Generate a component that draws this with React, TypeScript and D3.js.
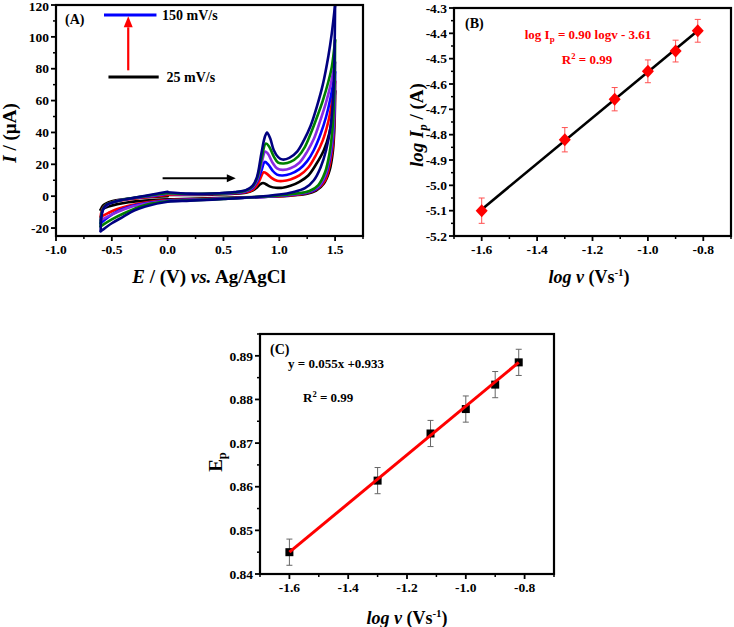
import * as d3 from 'd3';

type Pt = [number, number];

const FONT = '"Liberation Serif", "Times New Roman", serif';

// ---- Panel A: cyclic voltammograms (E / V, I / uA), one loop per scan rate
const scanRates = ['25 mV/s', '50 mV/s', '75 mV/s', '100 mV/s', '125 mV/s', '150 mV/s'];
const cvColors = ['#000000', '#ff0000', '#0000ff', '#8a2be2', '#008000', '#000080'];

const cv25: Pt[] = [
  [0, 0.8], [0.2, 0.8], [0.4, 1], [0.6, 1.5], [0.7, 2.2], [0.76, 3.5], [0.8, 5.5], [0.83, 7.5], [0.855, 8.3],
  [0.88, 7.5], [0.92, 6], [0.97, 5.3], [1.03, 5.3], [1.1, 6.5], [1.18, 9], [1.26, 13], [1.33, 20], [1.4, 29],
  [1.45, 40], [1.48, 52], [1.5, 66],
  [1.495, 45], [1.48, 28], [1.45, 16], [1.4, 8], [1.33, 3.5], [1.25, 1.5], [1.1, 0.3], [0.9, -0.3], [0.5, -1],
  [0.2, -1.6], [0, -2], [-0.2, -2.8], [-0.35, -3.8], [-0.45, -5], [-0.53, -6.5], [-0.6, -8.5],
  [-0.58, -6], [-0.55, -4.5], [-0.5, -3.2], [-0.4, -2], [-0.25, -1], [-0.1, -0.3], [0, 0],
];
const cv50: Pt[] = [
  [0, 1], [0.2, 1], [0.4, 1.2], [0.6, 1.8], [0.7, 2.5], [0.76, 4], [0.8, 7], [0.83, 11], [0.86, 15],
  [0.89, 14], [0.93, 11.5], [0.98, 9.7], [1.03, 9.5], [1.1, 10.5], [1.18, 13], [1.26, 18], [1.33, 26], [1.39, 35],
  [1.44, 47], [1.47, 58], [1.5, 72],
  [1.495, 50], [1.48, 32], [1.45, 19], [1.41, 10], [1.34, 4.5], [1.25, 2], [1.1, 0.5], [0.9, -0.4], [0.5, -1.3],
  [0.2, -2], [0, -2.5], [-0.2, -4], [-0.35, -6], [-0.45, -8], [-0.53, -10.5], [-0.6, -13],
  [-0.59, -9], [-0.57, -6.5], [-0.53, -4.5], [-0.45, -3], [-0.3, -1.5], [-0.1, 0], [0, 0.8],
];
const cv75: Pt[] = [
  [0, 1.5], [0.2, 1.2], [0.4, 1.4], [0.6, 2], [0.7, 3], [0.76, 5], [0.8, 9], [0.84, 16], [0.87, 21.5],
  [0.9, 20], [0.94, 16], [0.98, 13.5], [1.03, 13], [1.1, 14], [1.18, 17], [1.25, 22], [1.31, 29], [1.37, 39],
  [1.42, 50], [1.46, 62], [1.5, 78],
  [1.495, 55], [1.48, 36], [1.45, 22], [1.41, 12], [1.35, 5.5], [1.26, 2.5], [1.1, 0.8], [0.9, -0.3], [0.5, -1.5],
  [0.2, -2.2], [0, -2.8], [-0.2, -4.5], [-0.35, -6.8], [-0.45, -9.5], [-0.53, -13], [-0.6, -17],
  [-0.59, -11], [-0.57, -7.5], [-0.53, -5], [-0.45, -3], [-0.3, -1.2], [-0.1, 0.5], [0, 1.5],
];
const cv100: Pt[] = [
  [0, 1.5], [0.2, 1.3], [0.4, 1.5], [0.6, 2.2], [0.7, 3.2], [0.76, 5.5], [0.8, 10], [0.84, 20], [0.875, 28],
  [0.9, 26.5], [0.94, 21], [0.98, 17.5], [1.03, 16.5], [1.1, 17.5], [1.18, 21], [1.25, 28], [1.31, 36], [1.37, 48],
  [1.42, 59], [1.46, 70], [1.5, 84],
  [1.495, 60], [1.48, 40], [1.45, 24], [1.41, 13], [1.35, 6], [1.26, 2.8], [1.1, 1], [0.9, -0.2], [0.5, -1.6],
  [0.2, -2.4], [0, -3], [-0.2, -4.8], [-0.35, -7.2], [-0.45, -10], [-0.53, -12.5], [-0.6, -15],
  [-0.59, -10], [-0.57, -7], [-0.53, -4.8], [-0.45, -2.8], [-0.3, -1], [-0.1, 0.8], [0, 1.8],
];
const cv125: Pt[] = [
  [0, 1.8], [0.2, 1.4], [0.4, 1.6], [0.6, 2.4], [0.7, 3.5], [0.76, 6], [0.8, 11], [0.84, 23], [0.88, 33],
  [0.91, 31], [0.95, 25], [0.99, 21], [1.04, 20.5], [1.1, 21.5], [1.17, 25], [1.23, 31], [1.28, 39], [1.34, 50],
  [1.39, 60], [1.44, 72], [1.47, 81], [1.5, 98],
  [1.495, 70], [1.48, 45], [1.45, 27], [1.41, 15], [1.35, 7], [1.27, 3.2], [1.1, 1.2], [0.9, 0], [0.5, -1.7],
  [0.2, -2.6], [0, -3.2], [-0.2, -5.5], [-0.3, -8], [-0.4, -11], [-0.5, -14.5], [-0.57, -17.5], [-0.6, -19],
  [-0.595, -12], [-0.58, -8], [-0.55, -5.3], [-0.45, -3], [-0.3, -1], [-0.1, 1], [0, 2],
];
const cv150: Pt[] = [
  [0, 2.5], [0.2, 1.6], [0.4, 1.7], [0.6, 2.6], [0.7, 3.8], [0.76, 6.5], [0.8, 12], [0.84, 27], [0.87, 37],
  [0.89, 40], [0.92, 36], [0.95, 29], [0.99, 24.5], [1.03, 23], [1.09, 24], [1.16, 28], [1.22, 35], [1.28, 44],
  [1.34, 57], [1.39, 70], [1.44, 88], [1.47, 102], [1.5, 120],
  [1.495, 90], [1.485, 65], [1.46, 44], [1.42, 29], [1.37, 18], [1.31, 10], [1.23, 5], [1.12, 2.5], [1.0, 1],
  [0.8, -0.5], [0.5, -1.8], [0.2, -2.8], [0, -3.5], [-0.2, -6.5], [-0.3, -9], [-0.4, -13], [-0.5, -17],
  [-0.57, -20.5], [-0.6, -22],
  [-0.595, -14], [-0.58, -8.5], [-0.55, -5.5], [-0.45, -3], [-0.3, -1], [-0.1, 1.5], [0, 2.8],
];
const cvCurves = [cv25, cv50, cv75, cv100, cv125, cv150];

const aXTicks = [-1.0, -0.5, 0.0, 0.5, 1.0, 1.5];
const aYTicks = [-20, 0, 20, 40, 60, 80, 100, 120];

// ---- Panel B: log Ip vs log v
const logV = [-1.6, -1.3, -1.12, -1.0, -0.9, -0.82];
const logIp = [-5.1, -4.82, -4.66, -4.55, -4.47, -4.39];
const logIpErr = [0.05, 0.048, 0.046, 0.045, 0.043, 0.045];
const fitB: Pt[] = [[-1.6, -5.095], [-0.82, -4.39]];
const bXTicks = [-1.6, -1.4, -1.2, -1.0, -0.8];
const bYTicks = [-5.2, -5.1, -5.0, -4.9, -4.8, -4.7, -4.6, -4.5, -4.4, -4.3];

// ---- Panel C: Ep vs log v
const ep = [0.845, 0.8614, 0.8722, 0.8778, 0.8834, 0.8885];
const epErr = [0.003, 0.003, 0.003, 0.003, 0.003, 0.003];
const fitC: Pt[] = [[-1.6, 0.845], [-0.82, 0.8885]];
const cXTicks = [-1.6, -1.4, -1.2, -1.0, -0.8];
const cYTicks = [0.84, 0.85, 0.86, 0.87, 0.88, 0.89];

// split a loop into sweeps wherever the potential changes direction
function splitSweeps(pts: Pt[]): Pt[][] {
  const out: Pt[][] = [];
  let cur: Pt[] = [pts[0]];
  let dir = Math.sign(pts[1][0] - pts[0][0]);
  for (let i = 1; i < pts.length; i++) {
    const d = Math.sign(pts[i][0] - pts[i - 1][0]);
    if (d !== 0 && d !== dir) {
      out.push(cur);
      cur = [pts[i - 1]];
      dir = d;
    }
    cur.push(pts[i]);
  }
  out.push(cur);
  return out;
}

interface FrameProps {
  x: d3.ScaleLinear<number, number>;
  y: d3.ScaleLinear<number, number>;
  xTicks: number[];
  xMinor: number[];
  yTicks: number[];
  yMinor: number[];
  xFmt: (v: number) => string;
  yFmt: (v: number) => string;
}

const Frame = ({ x, y, xTicks, xMinor, yTicks, yMinor, xFmt, yFmt }: FrameProps) => {
  const [x0, x1] = x.range();
  const [y0, y1] = y.range();
  return (
    <g>
      {xMinor.map((v, i) => (
        <line key={'xm' + i} x1={x(v)} x2={x(v)} y1={y0} y2={y0 + 3} stroke="#000" strokeWidth={1.5} />
      ))}
      {yMinor.map((v, i) => (
        <line key={'ym' + i} x1={x0} x2={x0 - 3} y1={y(v)} y2={y(v)} stroke="#000" strokeWidth={1.5} />
      ))}
      {xTicks.map((v, i) => (
        <g key={'x' + i}>
          <line x1={x(v)} x2={x(v)} y1={y0} y2={y0 + 5} stroke="#000" strokeWidth={1.8} />
          <text x={x(v)} y={y0 + 18} textAnchor="middle" fontSize={13.5} fontWeight="bold">{xFmt(v)}</text>
        </g>
      ))}
      {yTicks.map((v, i) => (
        <g key={'y' + i}>
          <line x1={x0} x2={x0 - 5} y1={y(v)} y2={y(v)} stroke="#000" strokeWidth={1.8} />
          <text x={x0 - 7} y={Math.max(y(v), 6)} dy="0.35em" textAnchor="end" fontSize={13.5} fontWeight="bold">
            {yFmt(v)}
          </text>
        </g>
      ))}
      <rect x={x0} y={y1} width={x1 - x0} height={y0 - y1} fill="none" stroke="#000" strokeWidth={2.2} />
    </g>
  );
};

const f1 = (v: number) => v.toFixed(1);
const f2 = (v: number) => v.toFixed(2);
const f0 = (v: number) => v.toFixed(0);

const PanelA = () => {
  const x = d3.scaleLinear().domain([-1, 1.75]).range([56, 363]);
  const y = d3.scaleLinear().domain([-25, 120]).range([236, 5]);
  const line = d3.line<Pt>().x(d => x(d[0])).y(d => y(d[1])).curve(d3.curveCatmullRom.alpha(0.5));
  const xMinor = d3.range(-0.75, 1.76, 0.5);
  const yMinor = d3.range(-10, 111, 20);
  const arrowX = x(-0.353);
  return (
    <g>
      <defs>
        <clipPath id="clipA"><rect x={56} y={4} width={307} height={232} /></clipPath>
      </defs>
      <g clipPath="url(#clipA)">
        {cvCurves.map((c, i) =>
          splitSweeps(c).map((s, j) => (
            <path key={i + '-' + j} d={line(s) || ''} fill="none" stroke={cvColors[i]} strokeWidth={2.6}
              strokeLinecap="round" strokeLinejoin="round" />
          )),
        )}
      </g>
      <Frame x={x} y={y} xTicks={aXTicks} xMinor={xMinor} yTicks={aYTicks} yMinor={yMinor} xFmt={f1} yFmt={f0} />
      {/* legend */}
      <line x1={x(-0.57)} x2={x(-0.1)} y1={y(113.8)} y2={y(113.8)} stroke="#0000ff" strokeWidth={3} />
      <text x={x(-0.05)} y={y(113.8)} dy="0.35em" fontSize={14} fontWeight="bold">{scanRates[5]}</text>
      <line x1={x(-0.53)} x2={x(-0.08)} y1={y(74.8)} y2={y(74.8)} stroke="#000" strokeWidth={3} />
      <text x={x(-0.01)} y={y(74.8)} dy="0.35em" fontSize={14} fontWeight="bold">{scanRates[0]}</text>
      <line x1={arrowX} x2={arrowX} y1={y(79)} y2={y(106)} stroke="#ff0000" strokeWidth={2.2} />
      <path d={`M${arrowX - 4.5},${y(106)} L${arrowX},${y(113)} L${arrowX + 4.5},${y(106)} Z`} fill="#ff0000" />
      {/* scan direction */}
      <line x1={x(-0.045)} x2={x(0.55)} y1={y(11.3)} y2={y(11.3)} stroke="#000" strokeWidth={2} />
      <path d={`M${x(0.53)},${y(11.3) - 4} L${x(0.61)},${y(11.3)} L${x(0.53)},${y(11.3) + 4} Z`} fill="#000" />
      <text x={65} y={24} fontSize={14} fontWeight="bold">(A)</text>
      <text transform="translate(16,133) rotate(-90)" textAnchor="middle" fontSize={19} fontWeight="bold">
        <tspan fontStyle="italic">I</tspan> / (µA)
      </text>
      <text x={209} y={283} textAnchor="middle" fontSize={19} fontWeight="bold">
        <tspan fontStyle="italic">E</tspan> / (V) <tspan fontStyle="italic">vs.</tspan> Ag/AgCl
      </text>
    </g>
  );
};

const PanelB = () => {
  const x = d3.scaleLinear().domain([-1.7, -0.7]).range([454, 731]);
  const y = d3.scaleLinear().domain([-5.2, -4.3]).range([236, 8]);
  const line = d3.line<Pt>().x(d => x(d[0])).y(d => y(d[1]));
  const xMinor = d3.range(-1.7, -0.65, 0.2);
  const yMinor = d3.range(-5.15, -4.3, 0.1);
  return (
    <g>
      <Frame x={x} y={y} xTicks={bXTicks} xMinor={xMinor} yTicks={bYTicks} yMinor={yMinor} xFmt={f1} yFmt={f1} />
      {logV.map((v, i) => {
        const cx = x(v);
        const yt = y(logIp[i] + logIpErr[i]);
        const yb = y(logIp[i] - logIpErr[i]);
        return (
          <g key={i} stroke="#ff5050" strokeWidth={1}>
            <line x1={cx} x2={cx} y1={yt} y2={yb} />
            <line x1={cx - 3} x2={cx + 3} y1={yt} y2={yt} />
            <line x1={cx - 3} x2={cx + 3} y1={yb} y2={yb} />
          </g>
        );
      })}
      <path d={line(fitB) || ''} stroke="#000" strokeWidth={2.6} fill="none" />
      {logV.map((v, i) => {
        const cx = x(v);
        const cy = y(logIp[i]);
        return <path key={i} d={`M${cx},${cy - 6.5} L${cx + 6},${cy} L${cx},${cy + 6.5} L${cx - 6},${cy} Z`} fill="#ff0000" />;
      })}
      <text x={465} y={28} fontSize={14} fontWeight="bold">(B)</text>
      <text x={588} y={39} textAnchor="middle" fontSize={13} fontWeight="bold" fill="#ff0000">
        log I<tspan fontSize={9} dy={3}>p</tspan><tspan dy={-3}> = 0.90 logv - 3.61</tspan>
      </text>
      <text x={587} y={64} textAnchor="middle" fontSize={13} fontWeight="bold" fill="#ff0000">
        R<tspan fontSize={8.5} dy={-5}>2</tspan><tspan dy={5}> = 0.99</tspan>
      </text>
      <text transform="translate(423,125) rotate(-90)" textAnchor="middle" fontSize={19} fontWeight="bold">
        <tspan fontStyle="italic">log  I</tspan><tspan fontStyle="italic" fontSize={12.5} dy={4}>p</tspan>
        <tspan dy={-4}> / (A)</tspan>
      </text>
      <text x={589} y={283} textAnchor="middle" fontSize={18} fontWeight="bold">
        <tspan fontStyle="italic">log ν</tspan> (Vs<tspan fontSize={11} dy={-7}>-1</tspan><tspan dy={7}>)</tspan>
      </text>
    </g>
  );
};

const PanelC = () => {
  const x = d3.scaleLinear().domain([-1.7, -0.7]).range([260, 554]);
  const y = d3.scaleLinear().domain([0.84, 0.895]).range([574, 334]);
  const line = d3.line<Pt>().x(d => x(d[0])).y(d => y(d[1]));
  const xMinor = d3.range(-1.7, -0.65, 0.2);
  const yMinor = d3.range(0.845, 0.895, 0.01);
  return (
    <g>
      <Frame x={x} y={y} xTicks={cXTicks} xMinor={xMinor} yTicks={cYTicks} yMinor={yMinor} xFmt={f1} yFmt={f2} />
      {logV.map((v, i) => {
        const cx = x(v);
        const yt = y(ep[i] + epErr[i]);
        const yb = y(ep[i] - epErr[i]);
        return (
          <g key={i} stroke="#666" strokeWidth={1}>
            <line x1={cx} x2={cx} y1={yt} y2={yb} />
            <line x1={cx - 3} x2={cx + 3} y1={yt} y2={yt} />
            <line x1={cx - 3} x2={cx + 3} y1={yb} y2={yb} />
          </g>
        );
      })}
      {logV.map((v, i) => (
        <rect key={i} x={x(v) - 4} y={y(ep[i]) - 4} width={8} height={8} fill="#000" />
      ))}
      <path d={line(fitC) || ''} stroke="#ff0000" strokeWidth={3} fill="none" />
      <text x={270} y={354} fontSize={14} fontWeight="bold">(C)</text>
      <text x={288} y={368} fontSize={13} fontWeight="bold">y = 0.055x +0.933</text>
      <text x={303} y={402} fontSize={13} fontWeight="bold">
        R<tspan fontSize={8.5} dy={-5}>2</tspan><tspan dy={5}> = 0.99</tspan>
      </text>
      <text transform="translate(222,462) rotate(-90)" textAnchor="middle" fontSize={19} fontWeight="bold">
        E<tspan fontSize={12.5} dy={4}>p</tspan>
      </text>
      <text x={407} y={624} textAnchor="middle" fontSize={18} fontWeight="bold">
        <tspan fontStyle="italic">log ν</tspan> (Vs<tspan fontSize={11} dy={-7}>-1</tspan><tspan dy={7}>)</tspan>
      </text>
    </g>
  );
};

export default function App() {
  return (
    <svg width={734} height={627} fontFamily={FONT}
      style={{ position: 'absolute', left: 0, top: 0, background: '#fff' }}>
      <PanelA />
      <PanelB />
      <PanelC />
    </svg>
  );
}
